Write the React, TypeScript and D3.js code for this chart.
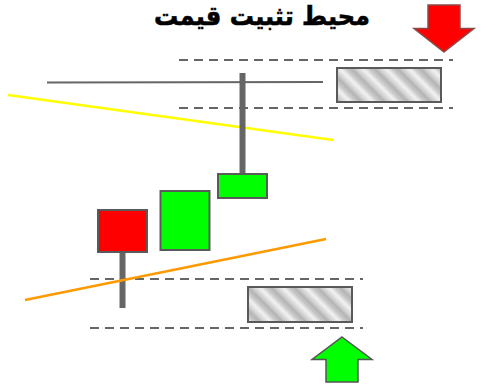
import React from 'react';
import * as d3 from 'd3';

// price chart units: x in bar-time units, y in price units
const title = 'محيط تثبيت قيمت';

const candles = [
  { t: 24.5, open: 35, close: 26.6, high: 35, low: 15.4 },
  { t: 37, open: 27, close: 38.8, high: 38.8, low: 27 },
  { t: 48.5, open: 37.4, close: 42.2, high: 62.4, low: 37.4 },
];
const candleWidth = 9.8;

const resistance = [{ t: 9.4, p: 60.5 }, { t: 64.6, p: 60.6 }];
const yellowTrend = [{ t: 1.6, p: 58 }, { t: 66.6, p: 49 }];
const orangeTrend = [{ t: 5, p: 17 }, { t: 65.2, p: 29.2 }];

const zones = [
  { t0: 35.8, t1: 90.6, top: 65, bottom: 55.4, boxT0: 67.4, boxT1: 88.2, boxTop: 63.4, boxBottom: 56.6 },
  { t0: 18, t1: 72.6, top: 21.2, bottom: 11.4, boxT0: 49.6, boxT1: 70.4, boxTop: 19.6, boxBottom: 12.6 },
];

const arrows = [
  { t: 88.8, tip: 66.6, tail: 76, color: '#ff0000', stroke: '#8a4a4a' },
  { t: 68.4, tip: 9.6, tail: 0.6, color: '#00ff00', stroke: '#555555' },
];

const W = 481;
const H = 385;

export default function App() {
  const x = d3.scaleLinear().domain([0, 96.2]).range([0, W]);
  const y = d3.scaleLinear().domain([0, 77]).range([H, 0]);
  const line = d3.line<{ t: number; p: number }>().x(d => x(d.t)).y(d => y(d.p));

  const arrowPath = (a: typeof arrows[0]) => {
    const cx = x(a.t);
    const tipY = y(a.tip);
    const tailY = y(a.tail);
    const dir = tailY < tipY ? 1 : -1; // 1 = pointing down
    const len = Math.abs(tailY - tipY);
    const headH = len * 0.5;
    const shaftW = 16;
    const headW = 30;
    const baseY = tipY - dir * headH;
    const p = d3.path();
    p.moveTo(cx, tipY);
    p.lineTo(cx + headW, baseY);
    p.lineTo(cx + shaftW, baseY);
    p.lineTo(cx + shaftW, tailY);
    p.lineTo(cx - shaftW, tailY);
    p.lineTo(cx - shaftW, baseY);
    p.lineTo(cx - headW, baseY);
    p.closePath();
    return p.toString();
  };

  return (
    <svg width={W} height={H} style={{ position: 'absolute', left: 0, top: 0, background: '#fff' }}>
      <defs>
        <linearGradient id="hatch" gradientUnits="userSpaceOnUse" x1={0} y1={11.5} x2={11.5} y2={0} spreadMethod="repeat">
          <stop offset="0" stopColor="#d2d2d2" />
          <stop offset="0.3" stopColor="#f2f2f2" />
          <stop offset="0.55" stopColor="#cacaca" />
          <stop offset="0.8" stopColor="#b4b4b4" />
          <stop offset="1" stopColor="#d2d2d2" />
        </linearGradient>
      </defs>

      <text
        x={262}
        y={25}
        textAnchor="middle"
        fontFamily="DejaVu Sans, sans-serif"
        fontWeight="bold"
        fontSize={26}
        textLength={216}
        lengthAdjust="spacingAndGlyphs"
        fill="#000"
        stroke="#000"
        strokeWidth={0.6}
      >
        {title}
      </text>

      {zones.map((z, i) => (
        <g key={i}>
          {[z.top, z.bottom].map((p, j) => (
            <line key={j} x1={x(z.t0)} x2={x(z.t1)} y1={y(p)} y2={y(p)} stroke="#666" strokeWidth={2} strokeDasharray="9,6" />
          ))}
          <rect
            x={x(z.boxT0)}
            y={y(z.boxTop)}
            width={x(z.boxT1) - x(z.boxT0)}
            height={y(z.boxBottom) - y(z.boxTop)}
            fill="url(#hatch)"
            stroke="#5a5a5a"
            strokeWidth={2}
          />
        </g>
      ))}

      <path d={line(resistance) || ''} stroke="#666" strokeWidth={2} fill="none" />
      <path d={line(yellowTrend) || ''} stroke="#ffff00" strokeWidth={2.5} fill="none" />

      {candles.map((c, i) => {
        const up = c.close >= c.open;
        const bodyTop = y(Math.max(c.open, c.close));
        const bodyBot = y(Math.min(c.open, c.close));
        return (
          <g key={i}>
            <line x1={x(c.t)} x2={x(c.t)} y1={y(c.high)} y2={y(c.low)} stroke="#666" strokeWidth={6} />
            <rect
              x={x(c.t - candleWidth / 2)}
              y={bodyTop}
              width={x(candleWidth) - x(0)}
              height={bodyBot - bodyTop}
              fill={up ? '#00ff00' : '#ff0000'}
              stroke="#5a5a5a"
              strokeWidth={2}
            />
          </g>
        );
      })}

      <path d={line(orangeTrend) || ''} stroke="#ff9900" strokeWidth={2.5} fill="none" />

      {arrows.map((a, i) => (
        <path key={i} d={arrowPath(a)} fill={a.color} stroke={a.stroke} strokeWidth={1.5} />
      ))}
    </svg>
  );
}
